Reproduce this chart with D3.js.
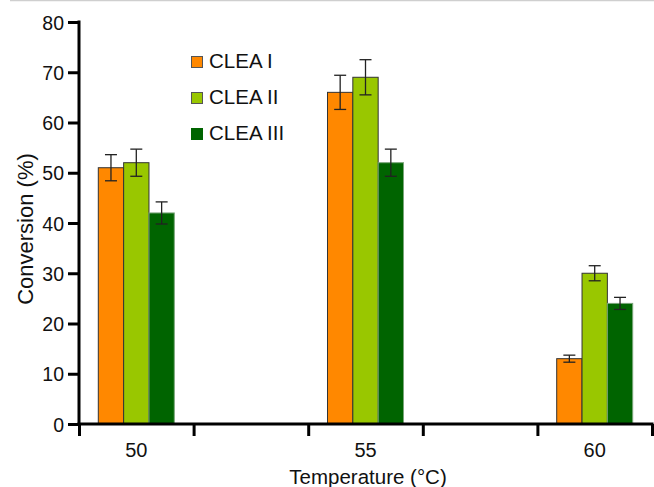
<!DOCTYPE html>
<html>
<head>
<meta charset="utf-8">
<script src="https://cdn.jsdelivr.net/npm/d3@7"></script>
<style>
  body { margin: 0; background: #fff; }
  text { font-family: "Liberation Sans", Arial, Helvetica, sans-serif; fill: #111; }
</style>
</head>
<body>
<div id="chart"></div>
<script>
// data
let temperatures = [50, 55, 60];
let series = ["CLEA I", "CLEA II", "CLEA III"];
let conversion = [
  [51, 66, 13],   // CLEA I
  [52, 69, 30],   // CLEA II
  [42, 52, 24]    // CLEA III
];
let errors = [
  [2.6, 3.4, 0.7],
  [2.7, 3.5, 1.5],
  [2.2, 2.7, 1.2]
];
let yTicks = [0, 10, 20, 30, 40, 50, 60, 70, 80];
let colors = ["#ff8800", "#99c700", "#006400"];
let strokes = ["#333", "#333", "#7aa57a"];

let width = 654, height = 487;
let plotLeft = 79, plotRight = 652, plotTop = 22, plotBottom = 424;

let svg = d3.select("#chart").append("svg")
  .attr("width", width).attr("height", height);

// thin grey rule along the top
svg.append("line")
  .attr("x1", 10).attr("x2", width).attr("y1", 0.5).attr("y2", 0.5)
  .attr("stroke", "#cfcfcf").attr("stroke-width", 1.5);

let yScale = d3.scaleLinear().domain([0, 80]).range([plotBottom, plotTop]);
// temperature axis: categories sit in every other of five slots
let xScale = d3.scaleLinear().domain([48.75, 61.25]).range([plotLeft, plotRight]);
let inner = d3.scaleBand().domain(series).range([-38, 38]);

// bars
series.forEach(function(s, i) {
  let rows = temperatures.map(function(t, j) {
    return {t: t, v: conversion[i][j], e: errors[i][j]};
  });
  let g = svg.append("g");
  g.selectAll("rect").data(rows).enter().append("rect")
    .attr("x", function(d) { return xScale(d.t) + inner(s); })
    .attr("y", function(d) { return yScale(d.v); })
    .attr("width", inner.bandwidth())
    .attr("height", function(d) { return plotBottom - yScale(d.v); })
    .attr("fill", colors[i])
    .attr("stroke", strokes[i]).attr("stroke-width", 1);

  // error bars
  let cx = function(d) { return xScale(d.t) + inner(s) + inner.bandwidth() / 2; };
  g.selectAll(".err").data(rows).enter().append("line")
    .attr("x1", cx).attr("x2", cx)
    .attr("y1", function(d) { return yScale(d.v + d.e); })
    .attr("y2", function(d) { return yScale(d.v - d.e); })
    .attr("stroke", "#222").attr("stroke-width", 1.3);
  [1, -1].forEach(function(sign) {
    g.selectAll(".cap" + sign).data(rows).enter().append("line")
      .attr("x1", function(d) { return cx(d) - 6; })
      .attr("x2", function(d) { return cx(d) + 6; })
      .attr("y1", function(d) { return yScale(d.v + sign * d.e); })
      .attr("y2", function(d) { return yScale(d.v + sign * d.e); })
      .attr("stroke", "#222").attr("stroke-width", 1.3);
  });
});

// y axis
let yAxis = d3.axisLeft(yScale).tickValues(yTicks).tickSize(11).tickPadding(4);
let gy = svg.append("g").attr("transform", "translate(" + plotLeft + ",0)").call(yAxis);
gy.select(".domain").attr("d", "M0," + (plotTop - 1.5) + "V" + (plotBottom + 1.5)).attr("stroke", "#000").attr("stroke-width", 3);
gy.selectAll(".tick line").attr("stroke", "#000").attr("stroke-width", 3);
gy.selectAll(".tick text").style("font-size", "19.5px").attr("dy", "0.36em")
  .style("font-family", "'Liberation Sans', Arial, sans-serif").attr("fill", "#111");

// x axis: ticks at slot boundaries, labels at category centres
let xAxis = d3.axisBottom(xScale).tickValues(d3.range(48.75, 61.3, 2.5)).tickSize(12).tickFormat("");
let gx = svg.append("g").attr("transform", "translate(0," + plotBottom + ")").call(xAxis);
gx.select(".domain").attr("d", "M" + (plotLeft - 1.5) + ",0H" + (plotRight + 1.5)).attr("stroke", "#000").attr("stroke-width", 3);
gx.selectAll(".tick line").attr("stroke", "#000").attr("stroke-width", 3);
svg.append("g").selectAll("text").data(temperatures).enter().append("text")
  .attr("x", function(d) { return xScale(d); })
  .attr("y", 457)
  .attr("text-anchor", "middle")
  .style("font-size", "20px")
  .text(function(d) { return d; });

// axis titles
svg.append("text")
  .attr("x", 368).attr("y", 484)
  .attr("text-anchor", "middle")
  .style("font-size", "20.5px")
  .text("Temperature (°C)");

svg.append("text")
  .attr("transform", "translate(33,229) rotate(-90)")
  .attr("text-anchor", "middle")
  .style("font-size", "22px")
  .text("Conversion (%)");

// legend
let legend = svg.append("g").selectAll("g").data(series).enter().append("g")
  .attr("transform", function(d, i) { return "translate(191," + (56 + i * 36) + ")"; });
legend.append("rect")
  .attr("x", 0.5).attr("y", 0.5).attr("width", 11).attr("height", 11)
  .attr("fill", function(d, i) { return colors[i]; })
  .attr("stroke", function(d, i) { return i == 2 ? "#006400" : "#555"; })
  .attr("stroke-width", 1);
legend.append("text")
  .attr("x", 18).attr("y", 12)
  .style("font-size", "20.5px")
  .text(function(d) { return d; });
</script>
</body>
</html>
